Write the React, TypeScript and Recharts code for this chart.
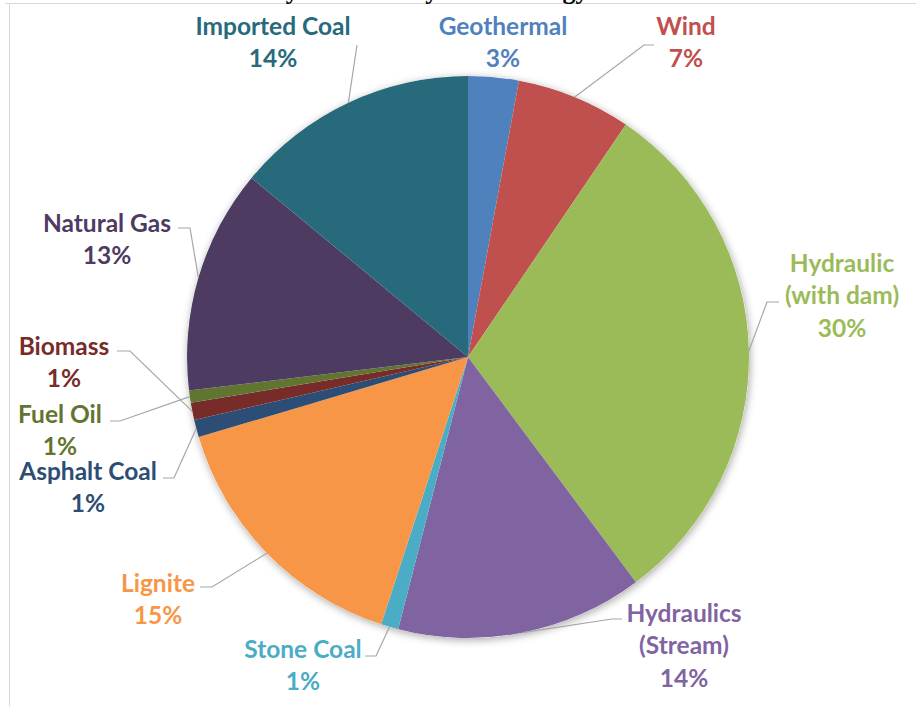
import React from 'react';
import { PieChart, Pie, Cell } from 'recharts';

const categories = [
  'Geothermal', 'Wind', 'Hydraulic (with dam)', 'Hydraulics (Stream)', 'Stone Coal',
  'Lignite', 'Asphalt Coal', 'Biomass', 'Fuel Oil', 'Natural Gas', 'Imported Coal',
];
const shares = [2.9, 6.6, 30.3, 14.2, 1.0, 15.4, 1.0, 1.0, 0.7, 12.9, 14.0];
const labelLines = [
  ['Geothermal'], ['Wind'], ['Hydraulic', '(with dam)'], ['Hydraulics', '(Stream)'], ['Stone Coal'],
  ['Lignite'], ['Asphalt Coal'], ['Biomass'], ['Fuel Oil'], ['Natural Gas'], ['Imported Coal'],
];
const colors = [
  '#4F81BD', '#C0504D', '#9BBB59', '#8064A2', '#4BACC6',
  '#F79646', '#2C4D75', '#772C2A', '#5F7530', '#4D3B62', '#276A7C',
];
const title = "Turkey's Electricity Total Energy Sources";

// label placement (layout only): text centre x, first-line centre y, leader end + elbow
const labelLayout = [
  { x: 503, y: 25, leader: null },
  { x: 686, y: 25, leader: [[654, 45], [644, 45]] },
  { x: 842, y: 262, leader: [[779, 302], [767, 302]] },
  { x: 684, y: 612, leader: [[622, 619], [612, 619]] },
  { x: 303, y: 648, leader: [[365, 656], [376, 656]] },
  { x: 158, y: 582, leader: [[200, 587], [212, 587]] },
  { x: 88, y: 470, leader: [[163, 478], [174, 478]] },
  { x: 64, y: 345, leader: [[117, 351], [130, 351]] },
  { x: 60, y: 413, leader: [[110, 421], [120, 421]] },
  { x: 107, y: 222, leader: [[178, 228], [190, 228]] },
  { x: 273, y: 25, leader: [[357, 45]] },
];

const data = categories.map((name, i) => ({ name, value: shares[i] }));
const RAD = Math.PI / 180;
const FONT = 'Lato, "Open Sans", sans-serif';

const renderLabel = (props: any) => {
  const { cx, cy, midAngle, outerRadius, index, percent } = props;
  const lay = labelLayout[index];
  const color = colors[index];
  const lines = [...labelLines[index], `${Math.round(percent * 100)}%`];
  const ex = cx + outerRadius * Math.cos(-midAngle * RAD);
  const ey = cy + outerRadius * Math.sin(-midAngle * RAD);
  let path = '';
  if (lay.leader) {
    const pts = [...lay.leader, [ex, ey]];
    path = pts.map((p, k) => `${k === 0 ? 'M' : 'L'}${p[0]},${p[1]}`).join(' ');
  }
  return (
    <g key={`lab-${index}`}>
      {path && <path d={path} stroke="#A6A6A6" strokeWidth={1.2} fill="none" />}
      {lines.map((t, k) => (
        <text
          key={k}
          x={lay.x}
          y={lay.y + k * 32.5}
          textAnchor="middle"
          dominantBaseline="central"
          fill={color}
          fontFamily={FONT}
          fontWeight={700}
          fontSize={24.5}
        >
          {t}
        </text>
      ))}
    </g>
  );
};

export default function App() {
  return (
    <div style={{ position: 'absolute', left: 0, top: 0, width: 916, height: 706, background: '#fff', overflow: 'hidden' }}>
      <div style={{ position: 'absolute', left: 5, top: 3, width: 911, height: 0, borderTop: '1.5px solid #D9D9D9' }} />
      <div style={{ position: 'absolute', left: 9, top: 3, width: 0, height: 703, borderLeft: '1.5px solid #D9D9D9' }} />
      <div style={{ position: 'absolute', left: 0, top: 0 }}>
        <PieChart width={916} height={706} margin={{ top: 0, right: 0, bottom: 0, left: 0 }}>
          <defs>
            <filter id="pieShadow" x="-10%" y="-10%" width="120%" height="120%">
              <feGaussianBlur in="SourceAlpha" stdDeviation="4" />
              <feOffset dx="1" dy="2" result="b" />
              <feComponentTransfer><feFuncA type="linear" slope="0.35" /></feComponentTransfer>
              <feMerge><feMergeNode /><feMergeNode in="SourceGraphic" /></feMerge>
            </filter>
          </defs>
          <text x={450} y={-1} textAnchor="middle" fontFamily='"Liberation Serif", "Times New Roman", serif' fontWeight={700} fontSize={26} fill="#000">
            {title}
          </text>
          <Pie
            data={[{ name: 'bg', value: 1 }]}
            dataKey="value"
            cx={468}
            cy={357}
            outerRadius={281}
            startAngle={90}
            endAngle={-270}
            stroke="none"
            fill="#fff"
            filter="url(#pieShadow)"
            isAnimationActive={false}
            label={false}
            labelLine={false}
          />
          <Pie
            data={data}
            dataKey="value"
            nameKey="name"
            cx={468}
            cy={357}
            outerRadius={281}
            startAngle={90}
            endAngle={-270}
            stroke="none"
            isAnimationActive={false}
            label={renderLabel}
            labelLine={false}
          >
            {data.map((d, i) => (
              <Cell key={d.name} fill={colors[i]} />
            ))}
          </Pie>
        </PieChart>
      </div>
    </div>
  );
}
